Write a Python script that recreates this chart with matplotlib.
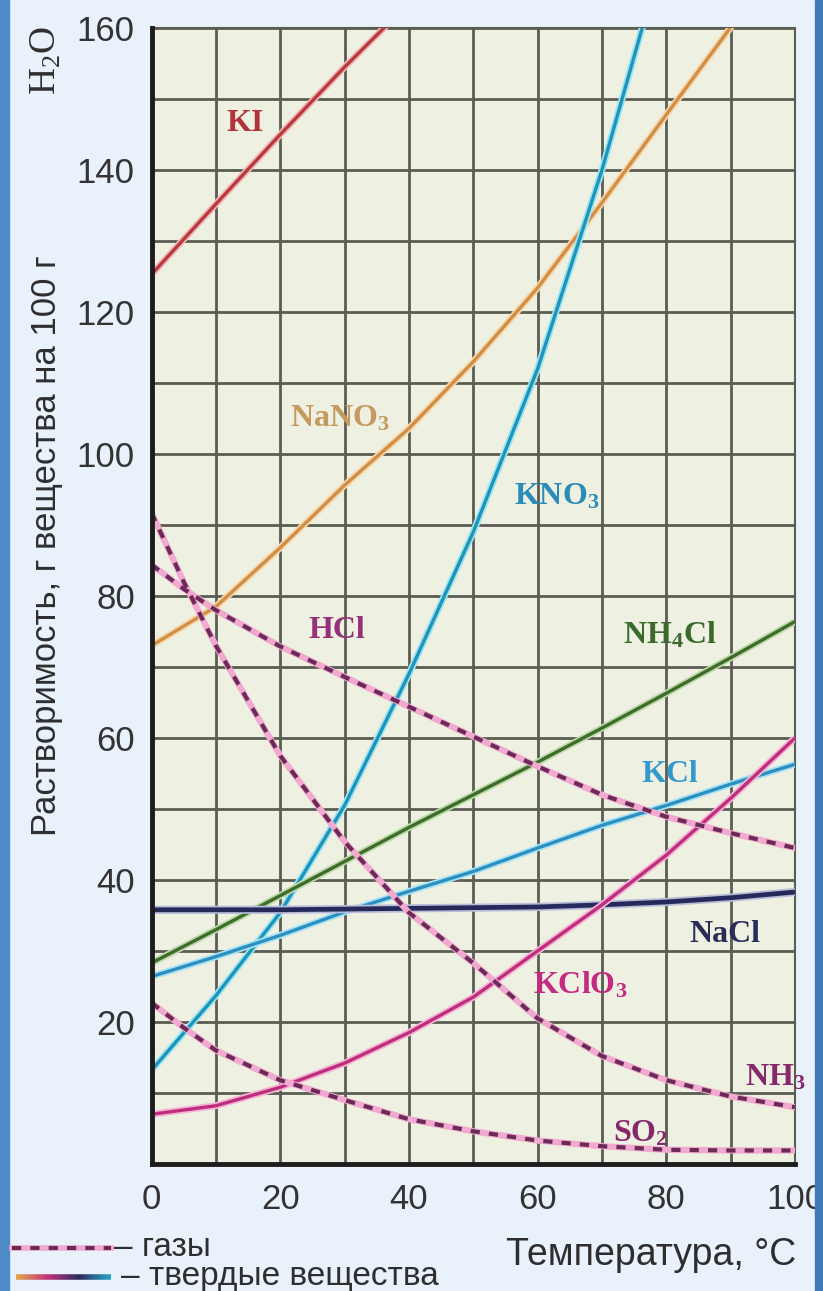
import numpy as np
import matplotlib.pyplot as plt
import matplotlib.patheffects as pe
from matplotlib.collections import LineCollection
from matplotlib.colors import LinearSegmentedColormap
from matplotlib.patches import Rectangle

plt.rcParams['font.family'] = ['Liberation Sans', 'DejaVu Sans']

# solubility, g per 100 g of water
t = [0, 10, 20, 30, 40, 50, 60, 70, 80, 90, 100]
ki_t = [0, 10, 20, 30, 40]
ki = [125.3, 135.2, 145.0, 154.5, 163.5]
nano3 = [73, 78.5, 86.8, 95.6, 103.6, 113, 123.4, 135.4, 147.8, 160.1, 173]
kno3_t = [0, 10, 20, 30, 40, 50, 60, 70, 80]
kno3 = [13.2, 23.7, 35.4, 50.5, 69, 89, 112, 140, 172]
nh4cl = [28.3, 33, 37.8, 42.6, 47.4, 52, 56.6, 61.4, 66.3, 71.3, 76.4]
kcl = [26.4, 29.2, 32.2, 35.5, 38.4, 41.2, 44.5, 47.7, 50.5, 53.5, 56.3]
nacl = [35.8, 35.8, 35.8, 35.9, 36.0, 36.1, 36.2, 36.5, 36.9, 37.5, 38.3]
kclo3 = [7.0, 8.2, 10.8, 14.2, 18.5, 23.5, 30, 36.5, 43.5, 51.5, 60]

gas_t = [0, 5, 10, 20, 30, 40, 50, 60, 70, 80, 90, 100]
hcl = [84.4, 81, 78, 72.9, 68.6, 64.4, 60.2, 56, 52, 48.9, 46.6, 44.5]
nh3 = [91.7, 82, 73, 57.5, 45.4, 35.4, 28.3, 20.5, 15.2, 11.8, 9.5, 8]
so2 = [22.7, 19.2, 16, 11.8, 9, 6.3, 4.6, 3.3, 2.5, 2, 1.9, 1.9]

yticks = [20, 40, 60, 80, 100, 120, 140, 160]
xticks = [0, 20, 40, 60, 80, 100]

fig = plt.figure(figsize=(8.23, 12.91), dpi=100)
fig.patch.set_facecolor('#e9f1fa')
# blue edges of the slide
fig.patches.append(Rectangle((0, 0), 0.011, 1, transform=fig.transFigure,
                             color='#4d8cc9', zorder=0))
fig.patches.append(Rectangle((0.99, 0), 0.01, 1, transform=fig.transFigure,
                             color='#3f79b7', zorder=0))

ax = fig.add_axes([0.1841, 0.0984, 0.7819, 0.8799])
ax.set_facecolor('#eef0e1')
ax.set_xlim(0, 100)
ax.set_ylim(0, 160)

for v in range(10, 100, 10):
    ax.axvline(v, color='#5b5c52', lw=2.0, zorder=1)
for v in range(10, 161, 10):
    ax.axhline(v, color='#5b5c52', lw=2.0, zorder=1)

for s in ['top', 'right']:
    ax.spines[s].set_color('#5b5c52')
    ax.spines[s].set_linewidth(1.5)
for s in ['left', 'bottom']:
    ax.spines[s].set_color('#1c1c1c')
    ax.spines[s].set_linewidth(3.5)
    ax.spines[s].set_zorder(5)


def solid(x, y, c, halo, lw=2.4):
    ax.plot(x, y, color=c, lw=lw, zorder=3, solid_capstyle='butt',
            path_effects=[pe.Stroke(linewidth=lw + 2.5, foreground=halo),
                          pe.Normal()])


def gas(x, y):
    ax.plot(x, y, color='#f2a9cf', lw=4.5, zorder=3)
    ax.plot(x, y, color='#6b2a58', lw=3.0, zorder=4, dashes=(2.2, 2.2))


solid(ki_t, ki, '#b83a3e', '#f0b8b8')
solid(t, nano3, '#d08f48', '#f8d8a8')
solid(kno3_t, kno3, '#1f93b8', '#9ce6f4')
solid(t, nh4cl, '#3f6b2c', '#bcd9a8')
solid(t, kcl, '#2b8fc0', '#a8e2f4')
solid(t, nacl, '#252a5a', '#b8bcd8', lw=3.4)
solid(t, kclo3, '#bd2f7c', '#f6b2d6')
gas(gas_t, hcl)
gas(gas_t, nh3)
gas(gas_t, so2)

lab = dict(fontfamily='Liberation Serif', fontweight='bold', fontsize=23,
           ha='center', va='center', zorder=6)
ax.text(14.5, 146.5, 'KI', color='#b0353b', **lab)
ax.text(29.3, 105, r'NaNO$\mathregular{_3}$', color='#c49a5e', **lab)
ax.text(63, 94, r'KNO$\mathregular{_3}$', color='#2a8cb8', **lab)
ax.text(28.8, 75.2, 'HCl', color='#96307a', **lab)
ax.text(80.6, 74.5, r'NH$\mathregular{_4}$Cl', color='#3c6a2c', **lab)
ax.text(80.6, 54.8, 'KCl', color='#3499cc', **lab)
ax.text(89.1, 32.3, 'NaCl', color='#2a2d58', **lab)
ax.text(66.6, 25.2, r'KClO$\mathregular{_3}$', color='#c42a82', **lab)
ax.text(96.9, 12.1, r'NH$\mathregular{_3}$', color='#86296c', **lab)
ax.text(76, 4.3, r'SO$\mathregular{_2}$', color='#86296c', **lab)

ax.set_yticks(yticks)
ax.set_xticks(xticks)
ax.tick_params(length=0, labelsize=25, labelcolor='#333333')
ax.tick_params(axis='y', pad=12)
ax.tick_params(axis='x', pad=14)

# axis titles
fig.text(0.056, 0.577, 'Растворимость, г вещества на 100 г', rotation=90,
         ha='center', va='center', fontsize=25, color='#2e2e2e')
fig.text(0.056, 0.953, r'H$\mathregular{_2}$O', rotation=90,
         ha='center', va='center', fontsize=27, color='#2e2e2e',
         fontfamily='Liberation Serif')
fig.text(0.968, 0.028, 'Температура, °C', ha='right', va='center',
         fontsize=27, color='#2e2e2e')

# legend drawn by hand at the bottom left
ly1 = 1 - 1248 / 1291
ly2 = 1 - 1277 / 1291
fig.add_artist(plt.Line2D([0.014, 0.135], [ly1, ly1], color='#f2a9cf', lw=4,
                          transform=fig.transFigure))
fig.add_artist(plt.Line2D([0.014, 0.135], [ly1, ly1], color='#6b2a58', lw=3,
                          dashes=(2.2, 2.2), transform=fig.transFigure))
fig.text(0.138, ly1, '– газы', ha='left', va='center', fontsize=24,
         color='#2e2e2e')
gx = np.linspace(0.02, 0.135, 60)
segs = [[(gx[i], ly2), (gx[i + 1], ly2)] for i in range(len(gx) - 1)]
cmap = LinearSegmentedColormap.from_list(
    'solids', ['#e2a24c', '#c2307c', '#2a2d5e', '#2aa3c8'])
lc = LineCollection(segs, colors=cmap(np.linspace(0, 1, len(segs))), lw=4,
                    transform=fig.transFigure)
fig.add_artist(lc)
fig.text(0.147, ly2, '– твердые вещества', ha='left', va='center',
         fontsize=24, color='#2e2e2e')

fig.savefig('out.png', dpi=100, facecolor=fig.get_facecolor())
